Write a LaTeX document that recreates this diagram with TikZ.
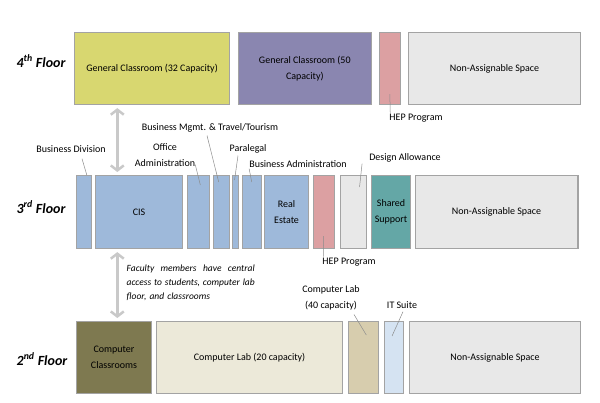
\documentclass[tikz,border=0pt]{standalone}
\usepackage{fontspec}
\setmainfont{Carlito}
\usetikzlibrary{arrows.meta,calc}
\definecolor{roomline}{HTML}{A3A3A3}
\definecolor{leadgray}{HTML}{8C8C8C}
\definecolor{liftgray}{HTML}{C9C9C9}
\definecolor{classyellow}{HTML}{D8D770}
\definecolor{classpurple}{HTML}{8A86B0}
\definecolor{hepred}{HTML}{DCA0A2}
\definecolor{nongray}{HTML}{E8E8E8}
\definecolor{busblue}{HTML}{9EB9DA}
\definecolor{sharedteal}{HTML}{64A7A6}
\definecolor{compolive}{HTML}{7E7950}
\definecolor{labcream}{HTML}{ECE9D9}
\definecolor{labtan}{HTML}{D7CDAE}
\definecolor{itblue}{HTML}{D5E3F2}
\tikzset{>={Straight Barb[length=5pt,width=13pt]}}
\tikzset{
  room/.style={draw=roomline, line width=1.1pt, anchor=north west, inner sep=1pt,
    align=center, font=\fontsize{10}{16}\selectfont},
  tag/.style={inner sep=1pt, align=center, font=\fontsize{10}{16}\selectfont},
  lead/.style={draw=leadgray, line width=0.5pt},
  lift/.style={<->, draw=liftgray, line width=2.5pt, shorten <=3pt, shorten >=3pt},
  floor/.style={font=\bfseries\itshape\fontsize{14}{16}\selectfont},
  note/.style={inner sep=0pt, text width=128pt, font=\itshape\fontsize{9.5}{14}\selectfont}
}

\begin{document}
\begin{tikzpicture}[x=1pt,y=-1pt]
    \useasboundingbox (0,0) rectangle (600,402);
    % 4th floor
    \node[floor] (f4) at (41,61) {4\textsuperscript{th} Floor};
    \node[room, fill=classyellow, minimum width=155pt, minimum height=72pt] (gc32) at (74,32) {General Classroom (32 Capacity)};
    \node[room, fill=classpurple, minimum width=133.5pt, minimum height=72pt] (gc50) at (237.5,32) {General Classroom (50\\Capacity)};
    \node[room, fill=hepred, minimum width=21.5pt, minimum height=72pt] (hep4) at (378.5,32) {};
    \node[room, fill=nongray, minimum width=172pt, minimum height=72pt] (na4) at (408,32) {Non-Assignable Space};
    % 3rd floor
    \node[floor] (f3) at (41,207) {3\textsuperscript{rd} Floor};
    \node[room, fill=busblue, minimum width=15.5pt, minimum height=73pt] (bd) at (75.5,175) {};
    \node[room, fill=busblue, minimum width=87pt, minimum height=73pt] (cis) at (95,175) {CIS};
    \node[room, fill=busblue, minimum width=22.4pt, minimum height=73pt] (oa) at (186.6,175) {};
    \node[room, fill=busblue, minimum width=16.1pt, minimum height=73pt] (bm) at (212.6,175) {};
    \node[room, fill=busblue, minimum width=6pt, minimum height=73pt] (pl) at (232,175) {};
    \node[room, fill=busblue, minimum width=18.7pt, minimum height=73pt] (ba) at (241.8,175) {};
    \node[room, fill=busblue, minimum width=44pt, minimum height=73pt] (re) at (264,175) {Real\\Estate};
    \node[room, fill=hepred, minimum width=21.1pt, minimum height=73pt] (hep3) at (312.6,175) {};
    \node[room, fill=nongray, minimum width=26pt, minimum height=73pt] (da) at (340,175) {};
    \node[room, fill=sharedteal, minimum width=39pt, minimum height=73pt] (ss) at (371,175) {Shared\\Support};
    \node[room, fill=nongray, minimum width=162.8pt, minimum height=73pt] (na3) at (414.6,175) {Non-Assignable Space};
    % 2nd floor
    \node[floor] (f2) at (42,359) {2\textsuperscript{nd} Floor};
    \node[room, fill=compolive, minimum width=75.8pt, minimum height=72pt] (cc) at (75.5,321) {Computer\\Classrooms};
    \node[room, fill=labcream, minimum width=186pt, minimum height=72pt] (cl20) at (156,321) {Computer Lab (20 capacity)};
    \node[room, fill=labtan, minimum width=30.5pt, minimum height=72pt] (cl40) at (347.5,321) {};
    \node[room, fill=itblue, minimum width=19pt, minimum height=72pt] (it) at (384,321) {};
    \node[room, fill=nongray, minimum width=171pt, minimum height=72pt] (na2) at (409,321) {Non-Assignable Space};
    % labels and leaders
    \node[tag] (hep4lab) at (416,118) {HEP Program};
    \node[tag] (bmlab) at (210,128) {Business Mgmt. \& Travel/Tourism};
    \node[tag] (bdlab) at (71,149) {Business Division};
    \node[tag] (oalab) at (165,155) {Office\\Administration};
    \node[tag] (pllab) at (248,149) {Paralegal};
    \node[tag] (balab) at (298,164) {Business Administration};
    \node[tag] (dalab) at (405,158) {Design Allowance};
    \node[tag] (hep3lab) at (349,262) {HEP Program};
    \node[tag] (cl40lab) at (331,298) {Computer Lab\\(40 capacity)};
    \node[tag] (itlab) at (402,305) {IT Suite};
    \draw[lead] ($(hep4.south)+(0,-11)$) -- ($(hep4lab.north west)+(2,0)$);
    \draw[lead] ($(bmlab.south)+(-3,2)$) -- ($(bm.north)+(-2.5,7)$);
    \draw[lead] ($(bdlab.south)+(11,5)$) -- ($(bd.north)+(3,0)$);
    \draw[lead] ($(oalab.south east)+(-1,-3)$) -- ($(oa.north)+(2,10)$);
    \draw[lead] ($(pllab.south)+(-10,1)$) -- ($(pl.north)+(-1,5)$);
    \draw[lead] ($(balab.south west)+(1,0)$) -- ($(ba.north)+(0,7)$);
    \draw[lead] ($(dalab.south west)+(-6,0)$) -- ($(da.north)+(6,12)$);
    \draw[lead] ($(hep3.south)+(0,-13)$) -- ($(hep3lab.north west)+(2,0)$);
    \draw[lead] ($(cl40lab.south)+(23,3)$) -- ($(cl40.north)+(3,14)$);
    \draw[lead] ($(itlab.south)+(1,2)$) -- ($(it.north)+(-2,15)$);
    % stairs
    \coordinate (stair) at (117.3,0);
    \draw[lift] (gc32.south -| stair) -- (cis.north -| stair);
    \draw[lift] (cis.south -| stair) -- (cc.north -| stair);
    \node[note, anchor=north west] (faculty) at (126.5,265)
      {\hbox to 128pt{Faculty\hfill members\hfill have\hfill central}
       \hbox to 128pt{access\hfill to\hfill students,\hfill computer\hfill lab}
       \hbox{floor, and classrooms}};
\end{tikzpicture}
\end{document}
